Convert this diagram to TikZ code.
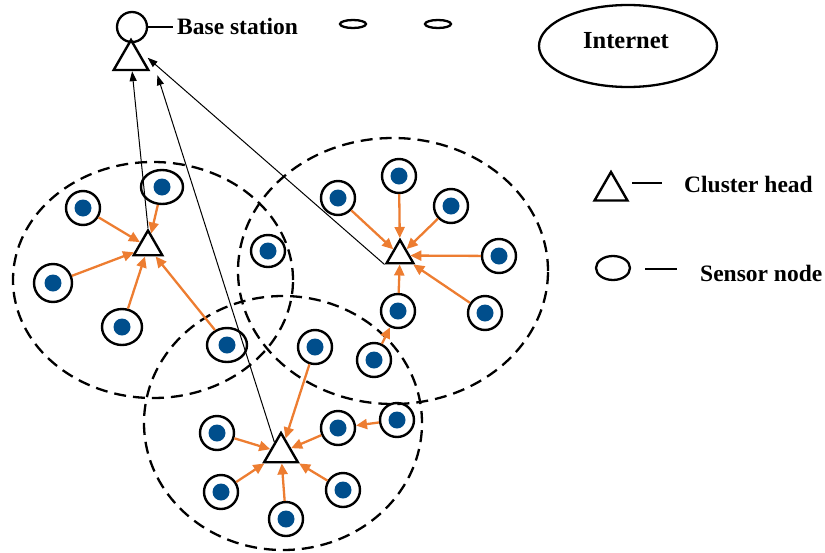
\documentclass[tikz,border=0pt]{standalone}
\usepackage{fontspec}
\setmainfont{Liberation Serif}
\usetikzlibrary{shapes.geometric,arrows.meta,calc}

\definecolor{dotblue}{RGB}{0,78,140}
\definecolor{sigorange}{RGB}{237,125,49}

\tikzset{
  sensor/.style={ellipse, draw, line width=2.4pt, minimum width=34pt,
    minimum height=34pt, inner sep=0pt,
    path picture={\fill[dotblue] (path picture bounding box.center) circle[radius=8.5pt];}},
  chead/.style={regular polygon, regular polygon sides=3, draw,
    line width=2.4pt, inner sep=0pt},
  cluster/.style={ellipse, draw, line width=2.3pt, dash pattern=on 12pt off 7pt,
    inner sep=0pt},
  link/.style={draw=sigorange, line width=2.3pt,
    -{Triangle[length=11pt,width=10pt]}},
  uplink/.style={draw=black, line width=1pt,
    -{Triangle[length=10pt,width=7pt]}},
  label/.style={font=\bfseries\fontsize{23.5}{27}\selectfont, inner sep=0pt},
  legline/.style={line width=2.3pt},
}

\begin{document}
\begin{tikzpicture}[x=1pt,y=-1pt]
\useasboundingbox (0,0) rectangle (825,552);

% dashed cluster boundaries
\node[cluster, minimum width=280pt, minimum height=236pt] (cl1) at (153,280) {};
\node[cluster, minimum width=310pt, minimum height=266pt] (cl2) at (393,271) {};
\node[cluster, minimum width=278pt, minimum height=254pt] (cl3) at (283,423) {};

% base station
\node[draw, circle, line width=2.3pt, minimum size=30pt, inner sep=0pt] (bsc) at (132,27) {};
\node[chead, minimum size=40pt] (bs) at (131,60) {};
\draw[legline] (bsc.east) -- ++(25,0);
\node[label, anchor=west] (bslabel) at (177,26) {Base station};

% small ellipses beside the label
\node[ellipse, draw, line width=2.3pt, minimum width=26pt, minimum height=8pt, inner sep=0pt] (e1) at (353,24) {};
\node[ellipse, draw, line width=2.3pt, minimum width=26pt, minimum height=8pt, inner sep=0pt] (e2) at (438,24) {};

% internet
\node[ellipse, draw, line width=2.3pt, minimum width=178pt, minimum height=82pt, inner sep=0pt] (net) at (628,46) {};
\node[font=\bfseries\fontsize{24.5}{28}\selectfont, inner sep=0pt] (nettext) at (626,41) {Internet};

% legend
\node[chead, minimum size=38pt] (legch) at (611,191) {};
\draw[legline] (632,183) -- (662,183);
\node[label, anchor=west] (legchtext) at (684,184) {Cluster head};
\node[ellipse, draw, line width=2.3pt, minimum width=34pt, minimum height=24pt, inner sep=0pt] (legsn) at (613,268) {};
\draw[legline] (645,269) -- (677,269);
\node[label, anchor=west] (legsntext) at (700,273) {Sensor node};

% cluster heads
\node[chead, minimum size=33pt] (ch1) at (148,247) {};
\node[chead, minimum size=31pt] (ch2) at (400,255.5) {};
\node[chead, minimum size=39pt] (ch3) at (281,452.5) {};

% sensor nodes
\node[sensor] (a) at (83,208) {};
\node[sensor, minimum width=42pt] (b) at (162,187) {};
\node[sensor, minimum size=38pt] (c) at (53,283) {};
\node[sensor, minimum width=40pt, minimum height=36pt] (d) at (122,327) {};
\node[sensor, minimum width=40pt, minimum height=34pt] (e) at (227,345) {};
\node[sensor, minimum height=32pt] (f) at (268,251) {};
\node[sensor] (g) at (338,198) {};
\node[sensor] (h) at (399,176) {};
\node[sensor] (i) at (451,206) {};
\node[sensor] (j) at (499,256) {};
\node[sensor] (k) at (485,313) {};
\node[sensor] (l) at (398,311) {};
\node[sensor] (m) at (374,360) {};
\node[sensor] (n) at (315,347) {};
\node[sensor] (o) at (217,433) {};
\node[sensor] (p) at (338,428) {};
\node[sensor] (q) at (397,420) {};
\node[sensor] (r) at (221,492) {};
\node[sensor] (s) at (286,519) {};
\node[sensor] (t) at (343,490) {};

% sensor to cluster head links
\foreach \x in {a,b,c,d,e} \draw[link] (\x) -- (ch1);
\foreach \x in {g,h,i,j,k,l} \draw[link] (\x) -- (ch2);
\foreach \x in {n,o,p,r,s,t} \draw[link] (\x) -- (ch3);
\draw[link] (m) -- (l);
\draw[link] (q) -- (p);

% cluster heads to base station
\draw[uplink] (ch1.corner 1) -- (bs);
\draw[uplink] ($(ch3.corner 1)!0.35!(ch3.corner 2)$) -- ($(bs.corner 3)+(7,4)$);
\draw[uplink] (ch2.corner 2) -- ($(bs.corner 1)!0.6!(bs.corner 3)+(5,0)$);
\end{tikzpicture}
\end{document}
